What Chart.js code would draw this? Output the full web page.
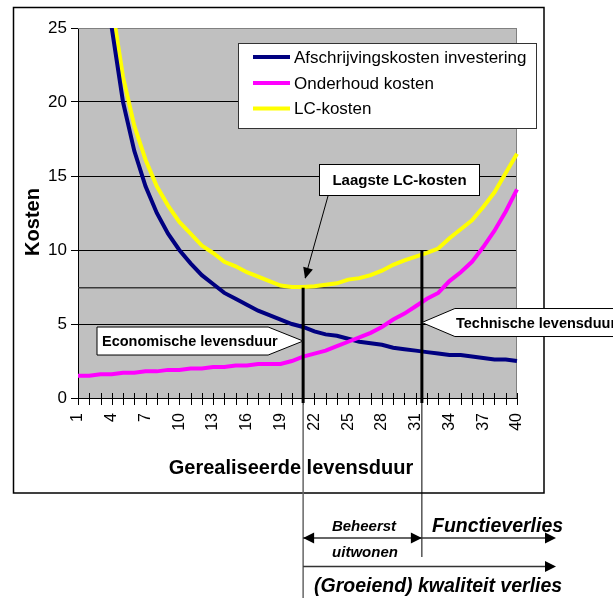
<!DOCTYPE html>
<html>
<head>
<meta charset="utf-8">
<script src="https://cdn.jsdelivr.net/npm/chart.js@4/dist/chart.umd.min.js"></script>
<style>
  html, body { margin: 0; padding: 0; background: #fff; }
  #wrap { width: 613px; height: 598px; position: relative; }
</style>
</head>
<body>
<div id="wrap"><canvas id="chart-kosten"></canvas></div>
<script>
// ---------------------------------------------------- DATA ----------------------------------------------------
const jaren = ['1','2','3','4','5','6','7','8','9','10','11','12','13','14','15','16','17','18','19','20',
               '21','22','23','24','25','26','27','28','29','30','31','32','33','34','35','36','37','38','39','40'];

const afschrijvingskosten = [100, 50, 33.3, 25, 20, 16.7, 14.3, 12.5, 11.1, 10, 9.1, 8.3, 7.7, 7.1, 6.7, 6.3, 5.9, 5.6, 5.3, 5.0,
                             4.8, 4.5, 4.3, 4.2, 4.0, 3.8, 3.7, 3.6, 3.4, 3.3, 3.2, 3.1, 3.0, 2.9, 2.9, 2.8, 2.7, 2.6, 2.6, 2.5];

const onderhoudKosten = [1.5, 1.5, 1.6, 1.6, 1.7, 1.7, 1.8, 1.8, 1.9, 1.9, 2.0, 2.0, 2.1, 2.1, 2.2, 2.2, 2.3, 2.3, 2.3, 2.5,
                         2.8, 3.0, 3.2, 3.5, 3.8, 4.1, 4.4, 4.8, 5.3, 5.7, 6.2, 6.7, 7.1, 7.9, 8.5, 9.2, 10.2, 11.3, 12.6, 14.1];

const lcKosten = [101.5, 51.5, 34.9, 26.6, 21.7, 18.4, 16.1, 14.3, 13.0, 11.9, 11.1, 10.3, 9.8, 9.2, 8.9, 8.5, 8.2, 7.9, 7.6, 7.5,
                  7.5, 7.55, 7.65, 7.75, 8.0, 8.1, 8.3, 8.6, 9.0, 9.3, 9.55, 9.8, 10.1, 10.8, 11.4, 12.0, 12.9, 13.9, 15.2, 16.5];

const yTicks = [0, 5, 10, 15, 20, 25];

// annotaties
const laagsteLC = 7.45;          // horizontale lijn bij laagste LC-kosten
const economischeJaar = 21;      // economische levensduur
const technischeJaar = 31.55;    // technische levensduur
const technischeTop = 10;

const FONT = "'Liberation Sans', Arial, Helvetica, sans-serif";

// ---------------------------------------------------- HELPERS ----------------------------------------------------
function arrowHead(ctx, x, y, angle, len, half) {
    ctx.save();
    ctx.translate(x, y);
    ctx.rotate(angle);
    ctx.beginPath();
    ctx.moveTo(0, 0);
    ctx.lineTo(-len, -half);
    ctx.lineTo(-len, half);
    ctx.closePath();
    ctx.fill();
    ctx.restore();
}

function line(ctx, x1, y1, x2, y2, w, color) {
    ctx.save();
    ctx.strokeStyle = color;
    ctx.lineWidth = w;
    ctx.beginPath();
    ctx.moveTo(x1, y1);
    ctx.lineTo(x2, y2);
    ctx.stroke();
    ctx.restore();
}

// ---------------------------------------------------- PLUGIN ----------------------------------------------------
const kostenDecor = {
    id: 'kostenDecor',
    beforeDraw(chart) {
        const ctx = chart.ctx;
        const a = chart.chartArea;
        ctx.save();
        ctx.fillStyle = '#ffffff';
        ctx.fillRect(0, 0, chart.width, chart.height);
        // kader rond de grafiek
        ctx.strokeStyle = '#000';
        ctx.lineWidth = 1.5;
        ctx.strokeRect(13.5, 7.5, 530.5, 485.5);
        // grijze tekenzone
        ctx.fillStyle = '#c0c0c0';
        ctx.fillRect(a.left, a.top, a.right - a.left, a.bottom - a.top);
        ctx.restore();
    },
    beforeDatasetsDraw(chart) {
        const ctx = chart.ctx;
        const a = chart.chartArea;
        const y = chart.scales.y.getPixelForValue(laagsteLC);
        line(ctx, a.left, y, a.right, y, 1.5, '#3a3a3a');
        // rand boven en rechts
        line(ctx, a.left, a.top + 0.5, a.right, a.top + 0.5, 1, '#808080');
        line(ctx, a.right - 0.5, a.top, a.right - 0.5, a.bottom, 1, '#808080');
    },
    afterDatasetsDraw(chart) {
        const ctx = chart.ctx;
        const a = chart.chartArea;
        const xs = chart.scales.x;
        const ys = chart.scales.y;

        // maatstreepjes x-as (kruisend)
        for (let i = 0; i < jaren.length; i++) {
            const px = Math.round(xs.getPixelForValue(i)) + 0.5;
            line(ctx, px, a.bottom - 5, px, a.bottom + 7, 1, '#000');
        }

        const xe = xs.getPixelForValue(economischeJaar - 1);
        const xt = xs.getPixelForValue(technischeJaar - 1);
        const yl = ys.getPixelForValue(laagsteLC);

        // dunne lijnen onder de grafiek
        line(ctx, xe, a.bottom + 5, xe, chart.height, 1.5, '#666');
        line(ctx, xt, a.bottom + 5, xt, 557, 1, '#000');

        // dikke verticale lijnen
        line(ctx, xe, yl, xe, a.bottom + 5, 3, '#000');
        line(ctx, xt, ys.getPixelForValue(technischeTop), xt, a.bottom + 5, 3, '#000');

        // Economische levensduur (pijl naar rechts)
        const ye = ys.getPixelForValue(3.85);
        ctx.save();
        ctx.fillStyle = '#fff';
        ctx.strokeStyle = '#000';
        ctx.lineWidth = 1;
        ctx.beginPath();
        ctx.moveTo(97, ye - 14);
        ctx.lineTo(xe - 35, ye - 14);
        ctx.lineTo(xe, ye);
        ctx.lineTo(xe - 35, ye + 14);
        ctx.lineTo(97, ye + 14);
        ctx.closePath();
        ctx.fill();
        ctx.stroke();
        ctx.fillStyle = '#000';
        ctx.font = 'bold 14.5px ' + FONT;
        ctx.textBaseline = 'middle';
        ctx.textAlign = 'left';
        ctx.fillText('Economische levensduur', 102, ye + 1);

        // Technische levensduur (pijl naar links)
        const yt = ys.getPixelForValue(5.1);
        ctx.fillStyle = '#fff';
        ctx.beginPath();
        ctx.moveTo(xt, yt);
        ctx.lineTo(xt + 33, yt - 14);
        ctx.lineTo(chart.width + 20, yt - 14);
        ctx.lineTo(chart.width + 20, yt + 14);
        ctx.lineTo(xt + 33, yt + 14);
        ctx.closePath();
        ctx.fill();
        ctx.stroke();
        ctx.fillStyle = '#000';
        ctx.fillText('Technische levensduur', 456, yt + 1);

        // Laagste LC-kosten
        ctx.fillStyle = '#fff';
        ctx.fillRect(319, 164, 160, 31);
        ctx.strokeRect(319.5, 164.5, 160, 31);
        ctx.fillStyle = '#000';
        ctx.font = 'bold 15px ' + FONT;
        ctx.textAlign = 'center';
        ctx.fillText('Laagste LC-kosten', 399.5, 181);
        line(ctx, 328, 196, xe + 2, yl - 10, 1, '#000');
        arrowHead(ctx, xe + 2, yl - 9, Math.atan2(yl - 9 - 196, xe + 2 - 328), 11, 5);

        // legenda
        ctx.fillStyle = '#fff';
        ctx.fillRect(238, 43, 299, 86);
        ctx.strokeStyle = '#333';
        ctx.strokeRect(238.5, 43.5, 298, 85);
        ctx.font = '17px ' + FONT;
        ctx.textAlign = 'left';
        const rows = [57, 83, 108.5];
        chart.data.datasets.forEach((ds, i) => {
            line(ctx, 253, rows[i], 290, rows[i], 4, ds.borderColor);
            ctx.fillStyle = '#000';
            ctx.fillText(ds.label, 294, rows[i] + 1);
        });

        // as-titels
        ctx.font = 'bold 20px ' + FONT;
        ctx.textAlign = 'center';
        ctx.fillText('Gerealiseerde levensduur', 291, 468);
        ctx.save();
        ctx.translate(33, 222);
        ctx.rotate(-Math.PI / 2);
        ctx.fillText('Kosten', 0, 0);
        ctx.restore();

        // pijlen onder de grafiek
        const yb = 538, yg = 566.5, xEnd = 556;
        line(ctx, xe, yb, xEnd - 8, yb, 1.5, '#333');
        arrowHead(ctx, xe, yb, Math.PI, 11, 5.5);
        arrowHead(ctx, xt, yb, 0, 11, 5.5);
        arrowHead(ctx, xEnd, yb, 0, 11, 5.5);
        line(ctx, xe, yg, xEnd - 8, yg, 1.5, '#333');
        arrowHead(ctx, xEnd, yg, 0, 11, 5.5);

        ctx.font = 'italic bold 15px ' + FONT;
        ctx.textAlign = 'center';
        ctx.fillText('Beheerst', 364, 527);
        ctx.fillText('uitwonen', 365, 553);
        ctx.font = 'italic bold 19.5px ' + FONT;
        ctx.textAlign = 'left';
        ctx.fillText('Functieverlies', 432, 527);
        ctx.fillText('(Groeiend) kwaliteit verlies', 314, 587);
        ctx.restore();
    }
};

// ---------------------------------------------------- CHART ----------------------------------------------------
const kosten = document.getElementById('chart-kosten').getContext('2d');
const chart_kosten = new Chart(kosten, {
    type: 'line',
    data: {
        labels: jaren,
        datasets: [{
            label: 'Afschrijvingskosten investering',
            data: afschrijvingskosten,
            borderColor: '#000080',
            backgroundColor: '#000080',
            borderWidth: 4,
            pointRadius: 0,
            fill: false,
            order: 1
        }, {
            label: 'Onderhoud kosten',
            data: onderhoudKosten,
            borderColor: '#ff00ff',
            backgroundColor: '#ff00ff',
            borderWidth: 4,
            pointRadius: 0,
            fill: false,
            order: 0
        }, {
            label: 'LC-kosten',
            data: lcKosten,
            borderColor: '#ffff00',
            backgroundColor: '#ffff00',
            borderWidth: 4,
            pointRadius: 0,
            fill: false,
            order: 2
        }]
    },
    options: {
        responsive: true,
        maintainAspectRatio: false,
        animation: false,
        layout: { padding: { left: 0, top: 28, right: 96, bottom: 0 } },
        plugins: {
            legend: { display: false },
            tooltip: { enabled: false }
        },
        scales: {
            x: {
                afterFit(scale) { scale.height = 200; },
                grid: { display: false, drawTicks: false },
                border: { display: true, color: '#000', width: 1 },
                ticks: {
                    autoSkip: false,
                    maxRotation: 90,
                    minRotation: 90,
                    padding: 15,
                    color: '#000',
                    font: { family: FONT, size: 16 },
                    callback: (value, index) => index % 3 === 0 ? jaren[index] : ''
                }
            },
            y: {
                min: 0,
                max: 25,
                afterFit(scale) { scale.width = 78; },
                afterBuildTicks(scale) { scale.ticks = yTicks.map(v => ({ value: v })); },
                grid: {
                    color: ctx => ctx.tick && ctx.tick.value === 25 ? '#808080' : '#000',
                    tickColor: '#000',
                    tickLength: 7,
                    lineWidth: 1
                },
                border: { display: true, color: '#000', width: 1 },
                ticks: {
                    padding: 4,
                    color: '#000',
                    font: { family: FONT, size: 17 }
                }
            }
        }
    },
    plugins: [kostenDecor]
});
</script>
</body>
</html>
